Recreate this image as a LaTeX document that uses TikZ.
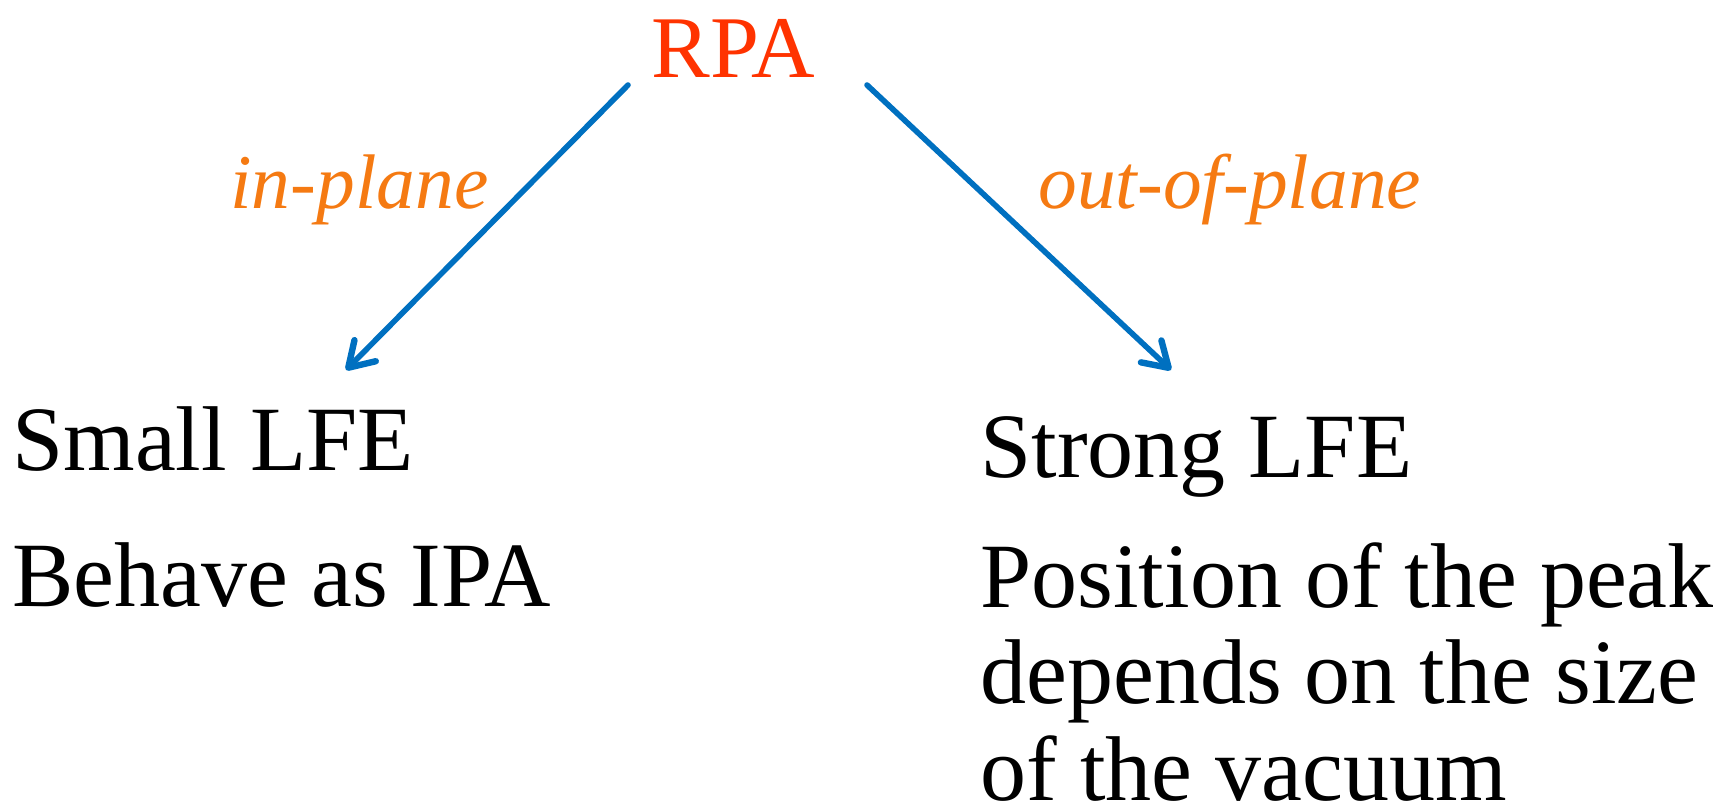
\documentclass[tikz,border=0pt]{standalone}
\usepackage{fontspec}
\setmainfont{Liberation Serif}
\usetikzlibrary{arrows.meta}
\definecolor{rpared}{HTML}{FF3300}
\definecolor{lblorange}{HTML}{F57A12}
\definecolor{arrowblue}{HTML}{0070C0}
\tikzset{
  body/.style={anchor=base west, inner sep=0pt, font=\fontsize{46}{48.25}\selectfont, align=left},
  lbl/.style={anchor=base west, inner sep=0pt, text=lblorange, font=\fontsize{38.7}{44}\selectfont\itshape},
  conn/.style={draw=arrowblue, line width=2.8pt, line cap=round,
    -{Straight Barb[length=12pt,width=15pt,line width=3.2pt,line cap=round,line join=round]}},
}
\begin{document}
\begin{tikzpicture}[x=0.5pt,y=-0.5pt]
\useasboundingbox (0,0) rectangle (1733,810);
\node[anchor=base west, inner sep=0pt, text=rpared, font=\fontsize{44}{50}\selectfont] (rpa) at (651,77) {RPA};
\node[lbl] (inplane) at (230,208) {in-plane};
\node[lbl] (outplane) at (1038,208) {out-of-plane};
\node[body] (small) at (12,470) {Small LFE};
\node[body] (behave) at (12,606) {Behave as IPA};
\node[body] (strong) at (980,477) {Strong LFE};
\node[body, text depth=0pt] (position) at (980,800) {Position of the peak\\depends on the size\\of the vacuum};
\coordinate (ls) at (628,85);
\coordinate (le) at (346,370);
\coordinate (rs) at (867,85);
\coordinate (re) at (1171,370);
\draw[conn] (ls) -- (le);
\draw[conn] (rs) -- (re);
\end{tikzpicture}
\end{document}
